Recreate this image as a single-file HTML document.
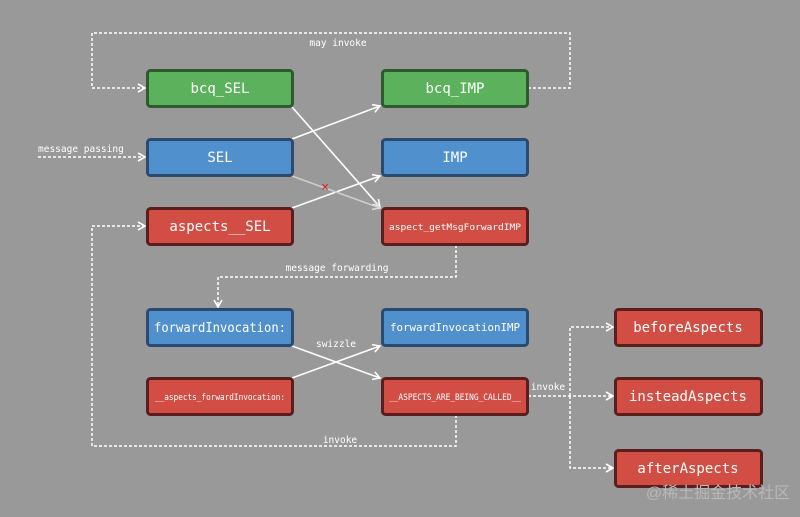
<!DOCTYPE html>
<html><head><meta charset="utf-8"><style>
html,body{margin:0;padding:0;background:#999;}
svg{display:block;}
text{font-family:"DejaVu Sans Mono","Liberation Mono",monospace;fill:#fff;}
</style></head><body>
<svg width="800" height="517" viewBox="0 0 800 517" xmlns="http://www.w3.org/2000/svg">
<defs>
<marker id="a" markerWidth="10" markerHeight="10" refX="8" refY="5" orient="auto" markerUnits="userSpaceOnUse">
<path d="M1,1 L8,5 L1,9" fill="none" stroke="#fff" stroke-width="1.6"/></marker>
<marker id="ag" markerWidth="10" markerHeight="10" refX="8" refY="5" orient="auto" markerUnits="userSpaceOnUse">
<path d="M1,1 L8,5 L1,9" fill="none" stroke="#ddd" stroke-width="1.6"/></marker>
</defs>
<rect width="800" height="517" fill="#999"/>
<g fill="none" stroke="#fff" stroke-width="1.5" stroke-dasharray="3,2">
<path d="M528,88 H570 V33 H92 V88 H145" marker-end="url(#a)"/>
<path d="M38,157 H145" marker-end="url(#a)"/>
<path d="M456,415 V446 H92 V226 H145" marker-end="url(#a)"/>
<path d="M456,245 V277 H218 V307" marker-end="url(#a)"/>
<path d="M528,396 H613" marker-end="url(#a)"/>
<path d="M570,396 V327 H613" marker-end="url(#a)"/>
<path d="M570,396 V468 H613" marker-end="url(#a)"/>
</g>
<g stroke="#fff" stroke-width="1.6" fill="none">
<path d="M292,107 L380,207" marker-end="url(#a)"/>
<path d="M292,139 L380,106" marker-end="url(#a)"/>
<path d="M292,208 L380,176" marker-end="url(#a)"/>
<path d="M292,346 L380,378" marker-end="url(#a)"/>
<path d="M292,378 L380,346" marker-end="url(#a)"/>
<path d="M292,176 L380,208" stroke="#ccc" marker-end="url(#ag)"/>
</g>
<text x="325" y="191" font-size="13" style="fill:#e0202a" text-anchor="middle">×</text>
<g font-size="9.5">
<text x="338" y="46" text-anchor="middle">may invoke</text>
<text x="38" y="152">message passing</text>
<text x="337" y="271" text-anchor="middle">message forwarding</text>
<text x="336" y="347" text-anchor="middle">swizzle</text>
<text x="340" y="443" text-anchor="middle">invoke</text>
<text x="548" y="390" text-anchor="middle">invoke</text>
</g>
<g stroke-width="3">
<rect x="147.5" y="70.5" width="145" height="36" rx="3" fill="#5cb15c" stroke="#2e5a2e"/>
<rect x="382.5" y="70.5" width="145" height="36" rx="3" fill="#5cb15c" stroke="#2e5a2e"/>
<rect x="147.5" y="139.5" width="145" height="36" rx="3" fill="#5090cc" stroke="#2a4a72"/>
<rect x="382.5" y="139.5" width="145" height="36" rx="3" fill="#5090cc" stroke="#2a4a72"/>
<rect x="147.5" y="208.5" width="145" height="36" rx="3" fill="#d24e45" stroke="#5a1e1e"/>
<rect x="382.5" y="208.5" width="145" height="36" rx="3" fill="#d24e45" stroke="#5a1e1e"/>
<rect x="147.5" y="309.5" width="145" height="36" rx="3" fill="#5090cc" stroke="#2a4a72"/>
<rect x="382.5" y="309.5" width="145" height="36" rx="3" fill="#5090cc" stroke="#2a4a72"/>
<rect x="147.5" y="378.5" width="145" height="36" rx="3" fill="#d24e45" stroke="#5a1e1e"/>
<rect x="382.5" y="378.5" width="145" height="36" rx="3" fill="#d24e45" stroke="#5a1e1e"/>
<rect x="615.5" y="309.5" width="146" height="36" rx="3" fill="#d24e45" stroke="#5a1e1e"/>
<rect x="615.5" y="378.5" width="146" height="36" rx="3" fill="#d24e45" stroke="#5a1e1e"/>
<rect x="615.5" y="450.5" width="146" height="36" rx="3" fill="#d24e45" stroke="#5a1e1e"/>
</g>
<g text-anchor="middle">
<text x="220" y="93" font-size="14">bcq_SEL</text>
<text x="455" y="93" font-size="14">bcq_IMP</text>
<text x="220" y="162" font-size="14">SEL</text>
<text x="455" y="162" font-size="14">IMP</text>
<text x="220" y="231" font-size="14">aspects__SEL</text>
<text x="455" y="230" font-size="9" textLength="132" lengthAdjust="spacingAndGlyphs">aspect_getMsgForwardIMP</text>
<text x="220" y="332" font-size="13" textLength="132" lengthAdjust="spacingAndGlyphs">forwardInvocation:</text>
<text x="455" y="331" font-size="11" textLength="130" lengthAdjust="spacingAndGlyphs">forwardInvocationIMP</text>
<text x="220" y="400" font-size="8.5" textLength="130" lengthAdjust="spacingAndGlyphs">__aspects_forwardInvocation:</text>
<text x="455" y="400" font-size="8.5" textLength="132" lengthAdjust="spacingAndGlyphs">__ASPECTS_ARE_BEING_CALLED__</text>
<text x="688" y="332" font-size="14">beforeAspects</text>
<text x="688" y="401" font-size="14">insteadAspects</text>
<text x="688" y="473" font-size="14">afterAspects</text>
</g>
<text x="718" y="498" font-size="16" style="fill:#b8b8b8;font-family:'Liberation Sans','Noto Sans CJK SC',sans-serif" text-anchor="middle">@稀土掘金技术社区</text>
</svg>
</body></html>
